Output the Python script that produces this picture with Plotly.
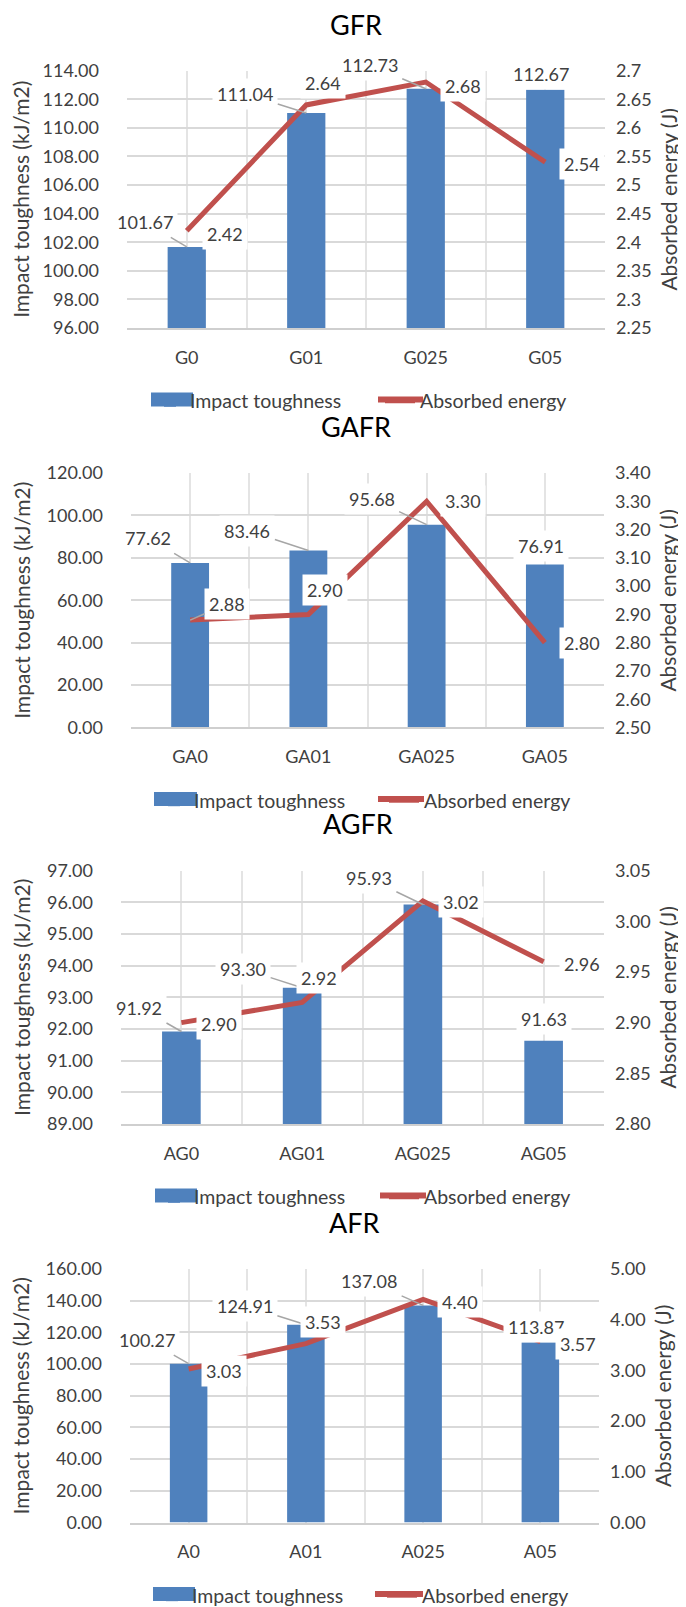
import plotly.graph_objects as go

W, H = 686, 1607

# ---------------- data ----------------
panel_titles = ["GFR", "GAFR", "AGFR", "AFR"]

cats_gfr = ["G0", "G01", "G025", "G05"]
cats_gafr = ["GA0", "GA01", "GA025", "GA05"]
cats_agfr = ["AG0", "AG01", "AG025", "AG05"]
cats_afr = ["A0", "A01", "A025", "A05"]

tough_gfr = [101.67, 111.04, 112.73, 112.67]
energy_gfr = [2.42, 2.64, 2.68, 2.54]

tough_gafr = [77.62, 83.46, 95.68, 76.91]
energy_gafr = [2.88, 2.90, 3.30, 2.80]

tough_agfr = [91.92, 93.30, 95.93, 91.63]
energy_agfr = [2.90, 2.92, 3.02, 2.96]

tough_afr = [100.27, 124.91, 137.08, 113.87]
energy_afr = [3.03, 3.53, 4.40, 3.57]

bar_name = "Impact toughness"
line_name = "Absorbed energy"
left_title = "Impact toughness (kJ/m2)"
right_title = "Absorbed energy (J)"

# axis ranges: (min, max, step, format)
left_axes = [(96, 114, 2, ".2f"), (0, 120, 20, ".2f"), (89, 97, 1, ".2f"), (0, 160, 20, ".2f")]
right_axes = [(2.25, 2.7, 0.05, ""), (2.5, 3.4, 0.1, ".2f"), (2.8, 3.05, 0.05, ".2f"), (0, 5, 1, ".2f")]

# ---------------- layout / style ----------------
boxes = [(119, 597, 63, 322), (123, 596, 468, 724), (113, 596, 868, 1123), (122, 591, 1269, 1524)]
title_pos = [(348, 17), (348, 421), (350, 821), (346, 1222)]
# Excel-style wide legend swatches: (bar x0, bar x1, line x0, line x1, centre y)
swatches = [(143, 185, 370, 415, 394), (146, 189, 370, 416, 796),
            (147, 189, 372, 418, 1195), (145, 187, 367, 415, 1596)]
legend_x = [142, 146, 146, 144]
legend_dy = 1.5

# label offsets in px (dx, dy; dy positive = down) and leader flags
bar_offsets = [
    [(-42, -25), (-61, -19), (-56, -24), (-4, -16)],
    [(-42, -25), (-61, -20), (-55, -26), (-4, -18)],
    [(-42, -24), (-59, -19), (-54, -26), (0, -22)],
    [(-42, -24), (-61, -19), (-54, -24), (-4, -15)],
]
bar_leaders = [True, True, True, False]
line_offsets = [
    [(38, 3), (17, -22), (37, 4), (37, 2)],
    [(37, -16), (17, -24), (36, 0), (37, 0)],
    [(38, 1), (17, -24), (38, 1), (38, 2)],
    [(35, 2), (17, -22), (37, 2), (38, 2)],
]
line_leaders = [
    [False, False, False, False],
    [True, False, False, False],
    [False, False, False, False],
    [False, False, False, False],
]

BAR_COLOR = "#4F81BD"
LINE_COLOR = "#C0504D"
GRID = "#D9D9D9"
VGRID = "#E4E4E4"
TXT = "#404040"
FONT = "Lato, 'Open Sans', sans-serif"

categories = [cats_gfr, cats_gafr, cats_agfr, cats_afr]
toughness = [tough_gfr, tough_gafr, tough_agfr, tough_afr]
energy = [energy_gfr, energy_gafr, energy_agfr, energy_afr]

fig = go.Figure()
annotations = []
shapes = []
layout = dict(
    width=W, height=H,
    margin=dict(l=0, r=0, t=0, b=0),
    paper_bgcolor="white", plot_bgcolor="white",
    template="none",
    font=dict(family=FONT, size=18, color=TXT),
    showlegend=True,
)

def px_x(v):
    return v / W

def px_y(v):
    return 1 - v / H

for k in range(4):
    cats = categories[k]
    pos = list(range(len(cats)))
    xn = "x" if k == 0 else f"x{k+1}"
    yb = "y" if k == 0 else f"y{2*k+1}"
    yl = f"y{2*k+2}"
    leg = "legend" if k == 0 else f"legend{k+1}"

    fig.add_trace(go.Bar(
        x=pos, y=toughness[k], name=bar_name, marker_color=BAR_COLOR,
        width=0.32, xaxis=xn, yaxis=yb, legend=leg,
    ))
    fig.add_trace(go.Scatter(
        x=pos, y=energy[k], name=line_name, mode="lines",
        line=dict(color=LINE_COLOR, width=5), xaxis=xn, yaxis=yl, legend=leg,
    ))

    l, r, t, b = boxes[k]
    xkey = "xaxis" if k == 0 else f"xaxis{k+1}"
    ybkey = "yaxis" if k == 0 else f"yaxis{2*k+1}"
    ylkey = f"yaxis{2*k+2}"

    layout[xkey] = dict(
        domain=[px_x(l), px_x(r)], anchor=yb,
        range=[-0.5, len(cats) - 0.5],
        tickmode="array", tickvals=pos, ticktext=cats,
        showgrid=True, gridcolor=VGRID, gridwidth=1.5,
        minor=dict(tick0=0.5, dtick=1, showgrid=True, gridcolor=VGRID, gridwidth=1.5),
        showline=True, linecolor="#CFCFCF", linewidth=2,
        zeroline=False, ticks="", ticklabelstandoff=12,
        tickfont=dict(size=18, color=TXT), fixedrange=True,
    )
    lo, hi, st, fmt = left_axes[k]
    layout[ybkey] = dict(
        domain=[px_y(b), px_y(t)], anchor=xn,
        range=[lo, hi], tick0=lo, dtick=st, tickformat=fmt,
        showgrid=True, gridcolor=GRID, gridwidth=1.5, zeroline=False,
        ticks="", ticklabelstandoff=27, tickfont=dict(size=18, color=TXT),
        title=dict(text=left_title, font=dict(size=21, color=TXT), standoff=10),
        fixedrange=True,
    )
    lo2, hi2, st2, fmt2 = right_axes[k]
    layout[ylkey] = dict(
        overlaying=yb, side="right", anchor=xn,
        range=[lo2, hi2], tick0=lo2, dtick=st2, tickformat=fmt2,
        showgrid=False, zeroline=False, showline=False,
        ticks="", ticklabelstandoff=10, tickfont=dict(size=18, color=TXT),
        title=dict(text=right_title, font=dict(size=21, color=TXT), standoff=11),
        fixedrange=True,
    )

    bx0, bx1, lx0, lx1, sy = swatches[k]
    layout[leg] = dict(
        orientation="h", x=px_x(legend_x[k]), xanchor="left",
        y=px_y(sy + legend_dy), yanchor="middle",
        font=dict(size=19.5, color=TXT), bgcolor="rgba(0,0,0,0)",
        entrywidth=185, entrywidthmode="pixels", itemwidth=30,
    )

    # widen the legend keys to Excel's proportions
    shapes.append(dict(type="rect", xref="paper", yref="paper",
                       x0=px_x(bx0), x1=px_x(bx1), y0=px_y(sy + 7), y1=px_y(sy - 7),
                       fillcolor=BAR_COLOR, line=dict(width=0), layer="above"))
    shapes.append(dict(type="line", xref="paper", yref="paper",
                       x0=px_x(lx0), x1=px_x(lx1), y0=px_y(sy), y1=px_y(sy),
                       line=dict(color=LINE_COLOR, width=6), layer="above"))

    tx, ty = title_pos[k]
    annotations.append(dict(
        x=px_x(tx), y=px_y(ty), xref="paper", yref="paper",
        text=panel_titles[k], showarrow=False, xanchor="center", yanchor="middle",
        font=dict(size=27, color="#000000"),
    ))

    for i in range(len(cats)):
        for vals, offs, leads, yref in (
            (toughness[k], bar_offsets[k], [bar_leaders[i]] * 4, yb),
            (energy[k], line_offsets[k], line_leaders[k], yl),
        ):
            dx, dy = offs[i]
            txt = f"{vals[i]:.2f}"
            base = dict(x=pos[i], y=vals[i], xref=xn, yref=yref, text=txt,
                        bgcolor="white", borderpad=4,
                        font=dict(size=18, color=TXT))
            if leads[i]:
                base.update(showarrow=True, arrowhead=0, arrowwidth=1.5,
                            arrowcolor="#A6A6A6", ax=dx, ay=dy, standoff=0)
            else:
                base.update(showarrow=False, xshift=dx, yshift=-dy,
                            xanchor="center", yanchor="middle")
            annotations.append(base)

layout["annotations"] = annotations
layout["shapes"] = shapes
fig.update_layout(**layout)
fig.write_html("out.html")
